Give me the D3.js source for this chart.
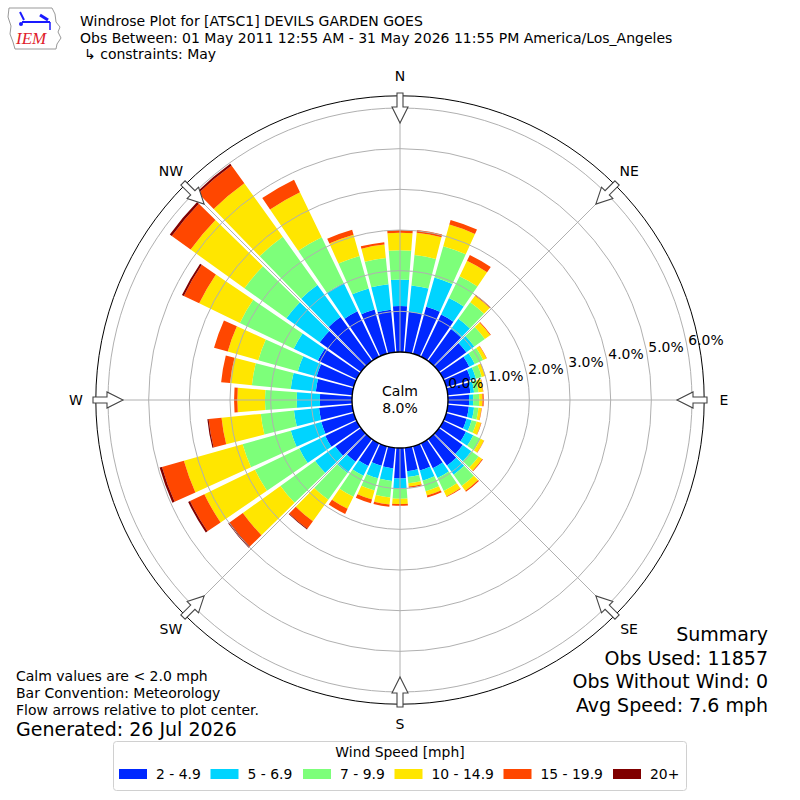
<!DOCTYPE html>
<html><head><meta charset="utf-8">
<script src="https://cdn.jsdelivr.net/npm/d3@7"></script>
<style>
body{margin:0;background:#fff;}
svg{display:block;font-family:"DejaVu Sans",sans-serif;}
</style></head>
<body><svg id="c" width="800" height="800"></svg>
<script>
// ---------------- data ----------------
const directions = d3.range(0, 360, 10);
const speedBins = ["2 - 4.9", "5 - 6.9", "7 - 9.9", "10 - 14.9", "15 - 19.9", "20+"];
const binColors = ["#0028ff", "#00d4ff", "#7dff7a", "#ffe600", "#ff4700", "#800000"];
// percent of observations per direction for each speed bin
const s2to5   = [1.13,1.00,1.20,1.15,0.97,0.83,0.71,0.63,0.56,0.52,0.52,0.52,0.62,0.72,0.80,0.68,0.62,0.58,0.75,0.51,0.50,0.62,0.69,0.78,0.86,0.83,0.82,0.79,0.90,0.95,1.06,1.25,1.33,1.24,1.13,1.05];
const s5to7   = [0.65,0.65,0.75,0.45,0.31,0.24,0.15,0.13,0.09,0.10,0.13,0.13,0.20,0.26,0.28,0.27,0.26,0.14,0.24,0.31,0.32,0.27,0.34,0.61,0.71,0.78,0.62,0.57,0.62,0.48,0.66,1.01,0.97,0.77,0.54,0.63];
const s7to10  = [0.72,0.75,0.80,0.60,0.50,0.32,0.23,0.15,0.11,0.15,0.11,0.13,0.20,0.22,0.34,0.35,0.27,0.16,0.26,0.41,0.31,0.57,0.81,1.05,1.21,1.23,0.82,0.78,0.96,1.01,1.47,1.27,1.46,1.25,0.83,0.65];
const s10to15 = [0.43,0.55,0.55,0.42,0.20,0.16,0.09,0.08,0.11,0.08,0.07,0.11,0.09,0.11,0.15,0.15,0.11,0.08,0.13,0.17,0.23,0.33,0.65,1.14,1.38,1.50,0.97,0.68,0.54,0.78,1.11,1.63,1.62,1.23,0.54,0.33];
const s15to20 = [0.07,0.07,0.12,0.16,0.03,0.02,0.01,0.01,0.01,0.03,0.01,0.01,0.01,0.02,0.03,0.02,0.05,0.03,0.04,0.06,0.10,0.14,0.23,0.40,0.39,0.56,0.32,0.08,0.22,0.35,0.42,0.57,0.54,0.34,0.13,0.06];
const s20plus = [0,0,0,0,0,0,0,0,0,0,0,0,0,0,0,0,0,0,0,0,0,0,0.02,0.04,0.05,0.06,0.03,0,0,0,0.05,0.06,0.05,0,0,0];
const rTicks = [0, 1, 2, 3, 4, 5, 6];
const compass = ["N", "NE", "E", "SE", "S", "SW", "W", "NW"];
const calmPct = "8.0%";
const titleLines = ["Windrose Plot for [ATSC1] DEVILS GARDEN GOES",
  "Obs Between: 01 May 2011 12:55 AM - 31 May 2026 11:55 PM America/Los_Angeles",
  "\u21B3 constraints: May"];
const summaryLines = ["Summary", "Obs Used: 11857", "Obs Without Wind: 0", "Avg Speed: 7.6 mph"];
const noteLines = ["Calm values are < 2.0 mph", "Bar Convention: Meteorology", "Flow arrows relative to plot center."];
const generated = "Generated: 26 Jul 2026";

// ---------------- layout ----------------
const svg = d3.select("#c");
const cx = 400, cy = 400;
const r = d3.scaleLinear().domain([0, 6]).range([48, 292]);
const outerR = r(6.3);
const rad = Math.PI / 180;
const barW = 8.6;

const table = directions.map((dir, i) => ({dir,
  b0: s2to5[i], b1: s5to7[i], b2: s7to10[i], b3: s10to15[i], b4: s15to20[i], b5: s20plus[i]}));
const keys = ["b0","b1","b2","b3","b4","b5"];
const stacked = d3.stack().keys(keys)(table);

const g = svg.append("g").attr("transform", `translate(${cx},${cy})`);
const arc = d3.arc();

stacked.forEach((layer, k) => {
  g.append("g").selectAll("path").data(layer).join("path")
    .attr("d", d => arc({innerRadius: r(d[0]), outerRadius: r(d[1]),
      startAngle: (d.data.dir - barW / 2) * rad, endAngle: (d.data.dir + barW / 2) * rad}))
    .attr("fill", binColors[k]);
});

// grid circles
g.append("g").selectAll("circle").data(rTicks.slice(1)).join("circle")
  .attr("r", d => r(d)).attr("fill", "none").attr("stroke", "#b0b0b0").attr("stroke-width", 1);

// radial lines
const angles8 = d3.range(0, 360, 45);
g.append("g").selectAll("line").data(angles8).join("line")
  .attr("x1", a => r(0) * Math.sin(a * rad)).attr("y1", a => -r(0) * Math.cos(a * rad))
  .attr("x2", a => 280 * Math.sin(a * rad)).attr("y2", a => -280 * Math.cos(a * rad))
  .attr("stroke", "#b0b0b0").attr("stroke-width", 1);

// calm circle
g.append("circle").attr("r", r(0)).attr("fill", "#fff").attr("stroke", "#000").attr("stroke-width", 1.4);
g.append("text").attr("y", -9).attr("text-anchor", "middle").attr("dominant-baseline", "central")
  .attr("font-size", 14).text("Calm");
g.append("text").attr("y", 8).attr("text-anchor", "middle").attr("dominant-baseline", "central")
  .attr("font-size", 14).text(calmPct);

// outer circle
g.append("circle").attr("r", outerR).attr("fill", "none").attr("stroke", "#000").attr("stroke-width", 1);

// arrows
const arrowPath = "M -3 -307 L 3 -307 L 3 -293 L 8 -293 L 0 -277 L -8 -293 L -3 -293 Z";
g.append("g").selectAll("path").data(angles8).join("path")
  .attr("d", arrowPath).attr("transform", a => `rotate(${a})`)
  .attr("fill", "#fff").attr("stroke", "#444").attr("stroke-width", 1.1);

// compass labels
g.append("g").selectAll("text").data(compass).join("text")
  .attr("x", (d, i) => 324 * Math.sin(i * 45 * rad))
  .attr("y", (d, i) => -324 * Math.cos(i * 45 * rad))
  .attr("text-anchor", "middle").attr("dominant-baseline", "central")
  .attr("font-size", 14).text(d => d);

// radial tick labels
const la = 10.3 * rad;
g.append("g").selectAll("text").data(rTicks).join("text")
  .attr("x", d => r(d) * Math.cos(la) + 18.7)
  .attr("y", d => -r(d) * Math.sin(la) - 8.1)
  .attr("text-anchor", "middle").attr("dominant-baseline", "central")
  .attr("font-size", 13.9).text(d => d3.format(".1f")(d) + "%");

// titles
svg.append("g").selectAll("text").data(titleLines).join("text")
  .attr("x", (d, i) => i === 2 ? 84 : 80).attr("y", (d, i) => [26, 42.5, 59][i])
  .attr("font-size", 14).text(d => d);

// summary
svg.append("g").selectAll("text").data(summaryLines).join("text")
  .attr("x", 768).attr("y", (d, i) => 641 + i * 23.5).attr("text-anchor", "end")
  .attr("font-size", 19).text(d => d);

// notes
svg.append("g").selectAll("text").data(noteLines).join("text")
  .attr("x", 16).attr("y", (d, i) => 681 + i * 17).attr("font-size", 14).text(d => d);
svg.append("text").attr("x", 16).attr("y", 736).attr("font-size", 19).text(generated);

// legend
const lg = svg.append("g");
lg.append("rect").attr("x", 113.5).attr("y", 741.5).attr("width", 573).attr("height", 49).attr("rx", 3)
  .attr("fill", "#fff").attr("stroke", "#d0d0d0");
lg.append("text").attr("x", 400).attr("y", 757).attr("text-anchor", "middle").attr("font-size", 13.9)
  .text("Wind Speed [mph]");
const legX = [119, 210.5, 303, 394.5, 503.5, 613];
speedBins.forEach((s, i) => {
  lg.append("rect").attr("x", legX[i]).attr("y", 769).attr("width", 28).attr("height", 10).attr("fill", binColors[i]);
  lg.append("text").attr("x", legX[i] + 37).attr("y", 779).attr("font-size", 13.9).text(s);
});

// IEM logo (approximate)
const logo = svg.append("g");
logo.append("path")
  .attr("d", "M9 8 L52 8 L55 14 L56 22 L60 27 L58 32 L61 38 L57 44 L56 49 L15 49 L13 42 L10 34 L11 26 L8 17 Z")
  .attr("fill", "none").attr("stroke", "#999").attr("stroke-width", 1);
logo.append("line").attr("x1", 22).attr("y1", 22).attr("x2", 50).attr("y2", 22).attr("stroke", "#1a1aff").attr("stroke-width", 2);
logo.append("line").attr("x1", 20).attr("y1", 12).attr("x2", 24).attr("y2", 20).attr("stroke", "#1a1aff").attr("stroke-width", 2);
logo.append("line").attr("x1", 40).attr("y1", 15).attr("x2", 48).attr("y2", 20).attr("stroke", "#1a1aff").attr("stroke-width", 3);
logo.append("line").attr("x1", 50).attr("y1", 22).attr("x2", 50).attr("y2", 30).attr("stroke", "#1a1aff").attr("stroke-width", 1.5);
logo.append("circle").attr("cx", 21).attr("cy", 24).attr("r", 2).attr("fill", "#1a1aff");
logo.append("text").attr("x", 16).attr("y", 44).attr("font-family", "Liberation Serif, serif")
  .attr("font-style", "italic").attr("font-size", 17).attr("fill", "#e0202a").text("IEM");
</script></body></html>
